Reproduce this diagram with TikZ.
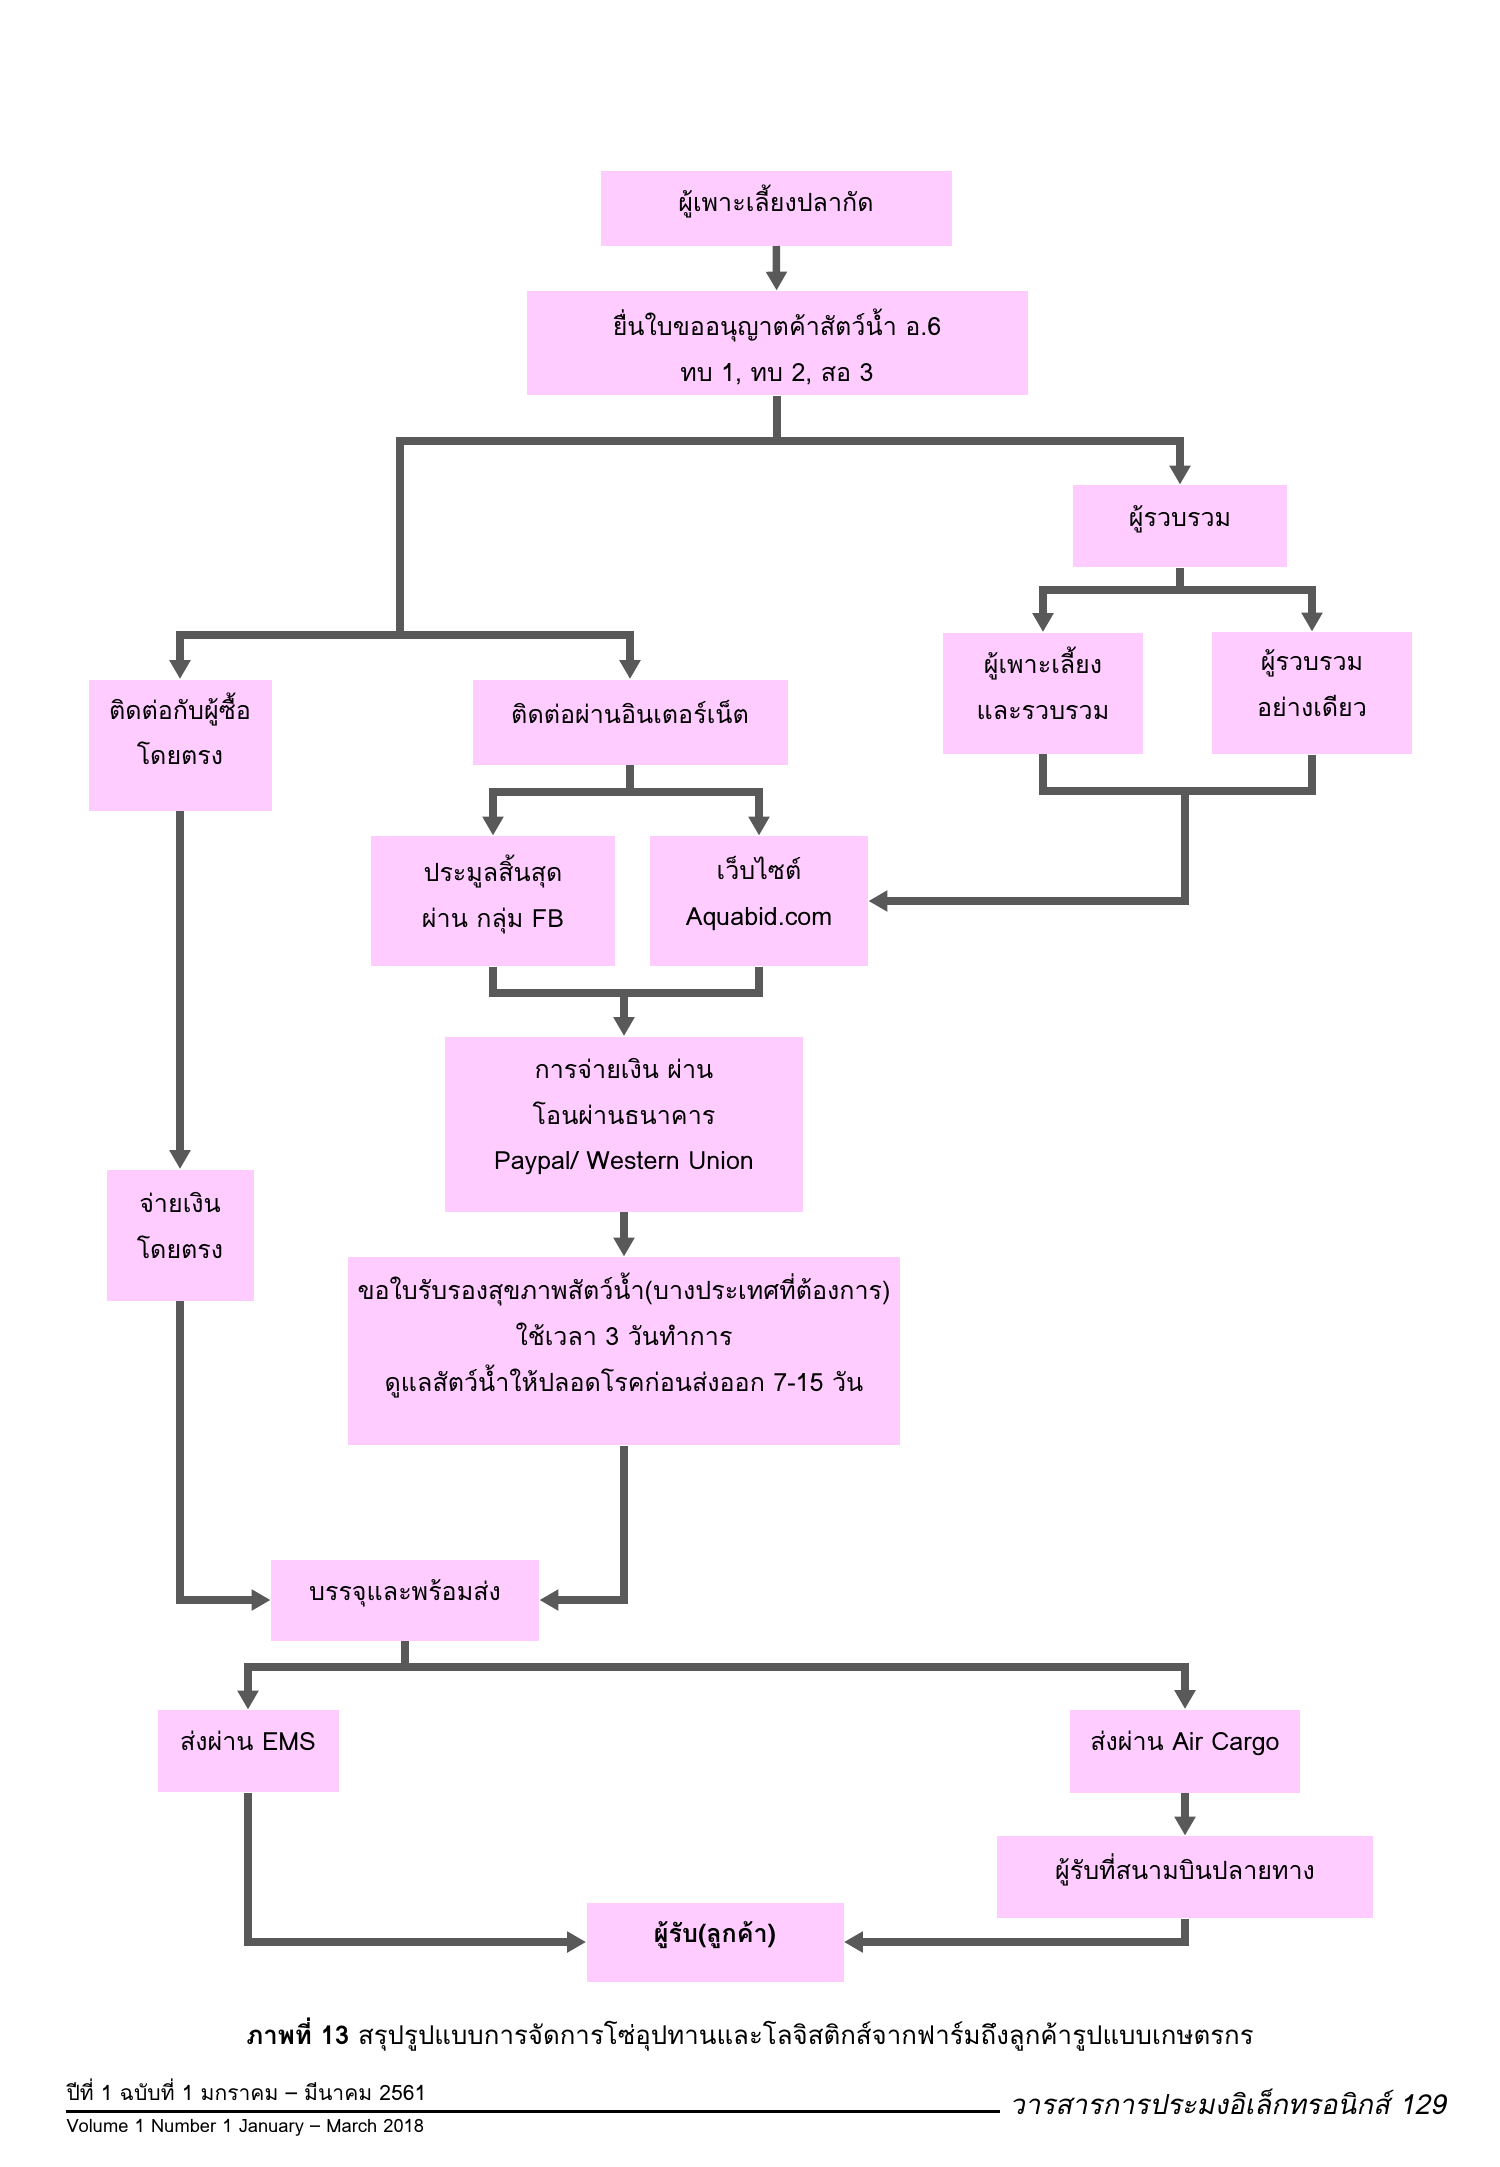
\documentclass[tikz,border=0pt]{standalone}
\usepackage{fontspec}
\setmainfont[Script=Thai]{Loma}
\newfontfamily\slantfont[Script=Thai,FakeSlant=0.2]{Loma}
\usepackage{tikz}
\usetikzlibrary{arrows.meta}
\definecolor{boxpink}{HTML}{FFCCFF}
\definecolor{flowgray}{HTML}{595959}
\newcommand*\pxu{0.014cm}
\newcommand*\dropstrut{\rule{0pt}{14pt}}
\tikzset{
    lift/.style = {execute at end node={\rule[-#1]{0pt}{#1}}},
    box/.style = {fill=boxpink,align=center,inner sep=0pt,
        font=\fontsize{10}{18.3}\selectfont},
    boxsize/.style 2 args = {minimum width=#1*\pxu,minimum height=#2*\pxu},
    rail/.style = {draw=flowgray,line width=3pt},
    flow/.style = {rail,-{Triangle[length=7.5pt,width=8pt]}}
}

\begin{document}
\begin{tikzpicture}[x=\pxu,y=-\pxu]
    \useasboundingbox (0,0) rectangle (1500,2167);
    % Farmer and licence
    \node[box,lift=8pt,boxsize={351}{75}] (b1) at (776,208) {ผู้เพาะเลี้ยงปลากัด};
    \node[box,boxsize={501}{104}] (b2) at (777,343)
        {\dropstrut ยื่นใบขออนุญาตค้าสัตว์น้ำ อ.6\\ทบ 1, ทบ 2, สอ 3};
    % Collectors
    \node[box,lift=8pt,boxsize={214}{82}] (col) at (1180,526) {ผู้รวบรวม};
    \node[box,lift=8pt,boxsize={200}{121}] (far) at (1043,693) {ผู้เพาะเลี้ยง\\และรวบรวม};
    \node[box,lift=8pt,boxsize={200}{122}] (only) at (1312,693) {ผู้รวบรวม\\อย่างเดียว};
    % Sales channels
    \node[box,lift=13pt,boxsize={183}{131}] (direct) at (180,745) {ติดต่อกับผู้ซื้อ\\โดยตรง};
    \node[box,lift=8pt,boxsize={315}{85}] (net) at (630,722) {ติดต่อผ่านอินเตอร์เน็ต};
    \node[box,lift=8pt,boxsize={244}{130}] (auction) at (493,901) {ประมูลสิ้นสุด\\ผ่าน กลุ่ม FB};
    \node[box,lift=8pt,boxsize={218}{130}] (web) at (759,901) {เว็บไซต์\\Aquabid.com};
    % Payment and health certificate
    \node[box,lift=8pt,boxsize={358}{175}] (pay) at (624,1124)
        {การจ่ายเงิน ผ่าน\\โอนผ่านธนาคาร\\Paypal/ Western Union};
    \node[box,lift=15pt,boxsize={552}{188}] (cert) at (624,1351)
        {ขอใบรับรองสุขภาพสัตว์น้ำ(บางประเทศที่ต้องการ)\\ใช้เวลา 3 วันทำการ\\ดูแลสัตว์น้ำให้ปลอดโรคก่อนส่งออก 7-15 วัน};
    \node[box,lift=8pt,boxsize={147}{131}] (paydir) at (180,1235) {จ่ายเงิน\\โดยตรง};
    % Shipping
    \node[box,lift=8pt,boxsize={268}{81}] (pack) at (405,1600) {บรรจุและพร้อมส่ง};
    \node[box,lift=8pt,boxsize={181}{82}] (ems) at (248,1751) {ส่งผ่าน EMS};
    \node[box,lift=8pt,boxsize={230}{83}] (air) at (1185,1751) {ส่งผ่าน Air Cargo};
    \node[box,lift=8pt,boxsize={376}{82}] (airport) at (1185,1877) {ผู้รับที่สนามบินปลายทาง};
    \node[box,lift=8pt,boxsize={257}{79}] (cust) at (715,1942) {\textbf{ผู้รับ(ลูกค้า)}};
    % Split points
    \coordinate (s1) at (400,441);
    \coordinate (s2) at (400,635);
    \coordinate (s3) at (1180,590);
    \coordinate (s4) at (1185,791);
    \coordinate (s5) at (630,792);
    \coordinate (s6) at (624,993);
    \coordinate (s7) at (405,1667);
    % Rails
    \draw[rail] (b2) to (b2 |- s1);
    \draw[rail] (col) to (s3);
    \draw[rail] (far) -- (far |- s4) -- (only |- s4) -- (only);
    \draw[rail] (net) to (s5);
    \draw[rail] (auction) -- (auction |- s6) -- (web |- s6) -- (web);
    \draw[rail] (pack) to (s7);
    % Arrows
    \draw[flow] (s2) -- (s1) -| (col);
    \foreach \src/\dest in {s2/direct,s2/net,s3/far,s3/only,s5/auction,s5/web,s7/ems,s7/air}
        \draw[flow] (\src) -| (\dest);
    \foreach \src/\dest in {b1/b2,s6/pay,pay/cert,direct/paydir,air/airport}
        \draw[flow] (\src) to (\dest);
    \foreach \src/\dest in {s4/web,cert/pack,paydir/pack,ems/cust,airport/cust}
        \draw[flow] (\src) |- (\dest);
    % Caption and footer
    \node[font=\fontsize{10.3}{13}\selectfont] (cap) at (750,2035)
        {\textbf{ภาพที่ 13} สรุปรูปแบบการจัดการโซ่อุปทานและโลจิสติกส์จากฟาร์มถึงลูกค้ารูปแบบเกษตรกร};
    \node[font=\fontsize{8.4}{9}\selectfont,anchor=base west,inner sep=0pt] (issue) at (66,2100)
        {ปีที่ 1 ฉบับที่ 1 มกราคม – มีนาคม 2561};
    \node[font=\fontsize{7.3}{9}\selectfont,anchor=base west,inner sep=0pt] (vol) at (66,2132)
        {Volume 1 Number 1 January – March 2018};
    \coordinate (rulel) at (66,2111);
    \coordinate (ruler) at (1000,2111);
    \draw[line width=1.2pt] (rulel) -- (ruler);
    \node[font=\fontsize{11}{13}\slantfont,anchor=base west,inner sep=0pt] (journal) at (1009,2114)
        {วารสารการประมงอิเล็กทรอนิกส์ 129};
\end{tikzpicture}
\end{document}
